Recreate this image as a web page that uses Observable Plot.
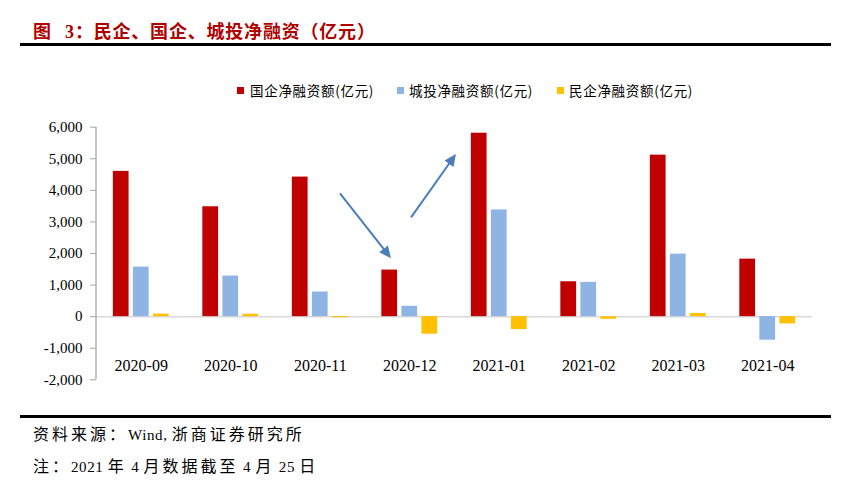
<!DOCTYPE html>
<html>
<head>
<meta charset="utf-8">
<script src="https://cdn.jsdelivr.net/npm/d3@7"></script>
<script src="https://cdn.jsdelivr.net/npm/@observablehq/plot@0.6"></script>
<style>
  html, body { margin: 0; padding: 0; background: #fff; }
  #page { position: relative; width: 860px; height: 483px; overflow: hidden; background: #fff;
          font-family: "Liberation Serif", "Noto Sans CJK SC", serif; color: #000; }
  #title { position: absolute; left: 33px; top: 17px; font-size: 18px; font-weight: bold; color: #B00000;
           font-family: "Liberation Serif", "Noto Sans CJK SC", serif; white-space: pre; letter-spacing: 0.8px; word-spacing: 8px; }
  .rule { position: absolute; left: 20px; width: 811px; background: #000; }
  #legend { position: absolute; top: 81px; left: 0; height: 20px; width: 860px; }
  .item { position: absolute; top: 0; font-size: 13.5px; white-space: nowrap; line-height: 18px;
          font-family: "Noto Sans CJK SC", sans-serif; letter-spacing: 0.7px; }
  .sw { position: absolute; width: 7px; height: 7px; top: 6px; }
  #chart { position: absolute; left: 0; top: 100px; }
  .foot { position: absolute; left: 33px; font-size: 15px; white-space: pre; line-height: 20px;
          font-family: "Liberation Serif", "Noto Sans CJK SC", serif; }
  .foot .cjk { font-size: 16px; letter-spacing: 3px; font-family: "Noto Sans CJK SC", sans-serif; }
  .foot .lat { letter-spacing: 0.6px; }
  #chart svg text { font-family: "Liberation Serif", serif; }
</style>
</head>
<body>
<div id="page">
  <div id="title"></div>
  <div class="rule" style="top:43px;height:3px;"></div>
  <div id="legend"></div>
  <div id="chart"></div>
  <div class="rule" style="top:415px;height:2.5px;"></div>
  <div class="foot" id="src" style="top:423px;"></div>
  <div class="foot" id="note" style="top:455px;"></div>
</div>
<script>
// ---- data ----
const titleText = "图 3：民企、国企、城投净融资（亿元）";
const sourceText = "资料来源：Wind, 浙商证券研究所";
const noteText = "注：2021 年 4 月数据截至 4 月 25 日";
const months = ["2020-09", "2020-10", "2020-11", "2020-12", "2021-01", "2021-02", "2021-03", "2021-04"];
const seriesNames = ["国企净融资额(亿元)", "城投净融资额(亿元)", "民企净融资额(亿元)"];
const soeValues = [4600, 3480, 4420, 1475, 5810, 1105, 5115, 1822];
const lgfvValues = [1570, 1285, 780, 328, 3380, 1086, 1980, -746];
const privateValues = [80, 75, -35, -556, -410, -85, 100, -230];
const seriesColors = ["#C00000", "#8EB4E3", "#FFC000"];
const yTicks = [-2000, -1000, 0, 1000, 2000, 3000, 4000, 5000, 6000];
// arrows: [month, fraction within month band, value]
const arrows = [
  {from: ["2020-11", 0.726, 3890], to: ["2020-12", 0.296, 1832]},
  {from: ["2020-12", 0.52, 3130], to: ["2021-01", 0.022, 5135]}
];

// ---- text ----
document.getElementById("title").textContent = titleText;
function fillFoot(id, text) {
  const el = document.getElementById(id);
  const parts = text.match(/[\u3000-\u9fff\uff00-\uffef]+|[^\u3000-\u9fff\uff00-\uffef]+/g);
  parts.forEach(p => {
    const s = document.createElement("span");
    s.className = /[\u3000-\u9fff\uff00-\uffef]/.test(p) ? "cjk" : "lat";
    s.textContent = p;
    el.appendChild(s);
  });
}
fillFoot("src", sourceText);
fillFoot("note", noteText);

const legendPos = [[237, 250], [397, 409], [557, 569]];
const legend = document.getElementById("legend");
seriesNames.forEach((s, i) => {
  const sw = document.createElement("div");
  sw.className = "sw"; sw.style.left = legendPos[i][0] + "px"; sw.style.background = seriesColors[i];
  legend.appendChild(sw);
  const t = document.createElement("div");
  t.className = "item"; t.style.left = legendPos[i][1] + "px"; t.textContent = s;
  legend.appendChild(t);
});

// ---- table ----
const valueSets = [soeValues, lgfvValues, privateValues];
const rows = [];
months.forEach((m, i) => seriesNames.forEach((s, j) => rows.push({month: m, series: s, value: valueSets[j][i]})));

const fmtAbs = d3.format(",");
const fmt = d => (d < 0 ? "-" : "") + fmtAbs(Math.abs(d));

const plot = Plot.plot({
  width: 860,
  height: 300,
  marginLeft: 96,
  marginRight: 48,
  marginTop: 26.7,
  marginBottom: 20.7,
  style: {fontFamily: "'Liberation Serif', serif", color: "#000", background: "transparent", overflow: "visible"},
  fx: {domain: months, padding: 0, round: false, axis: null, label: null},
  x: {domain: seriesNames, paddingInner: 0.215, paddingOuter: 0.84, round: false, axis: null},
  y: {domain: [-2000, 6000], axis: null},
  color: {domain: seriesNames, range: seriesColors},
  marks: [
    Plot.ruleY([0], {stroke: "#d9d9d9", strokeWidth: 1.5}),
    Plot.barY(rows, {fx: "month", x: "series", y: "value", fill: "series", inset: 0}),
    Plot.axisY({ticks: yTicks, tickSize: 6, tickPadding: 8, tickFormat: fmt, fontSize: 15,
                stroke: "#a6a6a6", fill: "#000", label: null}),
    Plot.axisFx({anchor: "bottom", tickSize: 0, tickPadding: 0, dy: -20, fontSize: 16, fill: "#000", label: null})
  ]
});
document.getElementById("chart").appendChild(plot);

// ---- y axis line and arrows via the library's scales ----
const fxS = plot.scale("fx");
const yS = plot.scale("y");
const svg = d3.select(plot.tagName.toLowerCase() === "svg" ? plot : plot.querySelector("svg"));
const x0 = fxS.range[0];
svg.append("line")
  .attr("x1", x0).attr("x2", x0)
  .attr("y1", yS.apply(6000)).attr("y2", yS.apply(-2000))
  .attr("stroke", "#a6a6a6").attr("stroke-width", 1.3);

const px = ([m, f, v]) => [fxS.apply(m) + f * fxS.bandwidth, yS.apply(v)];
const arrowColor = "#4A7EBB";
arrows.forEach(a => {
  const [xa, ya] = px(a.from), [xb, yb] = px(a.to);
  const dx = xb - xa, dy = yb - ya, len = Math.hypot(dx, dy);
  const ux = dx / len, uy = dy / len;
  const headLen = 12, headW = 5.5;
  const bx = xb - ux * headLen, by = yb - uy * headLen;
  svg.append("line").attr("x1", xa).attr("y1", ya).attr("x2", bx + ux).attr("y2", by + uy)
    .attr("stroke", arrowColor).attr("stroke-width", 2);
  svg.append("polygon")
    .attr("points", [[xb, yb], [bx - uy * headW, by + ux * headW], [bx + uy * headW, by - ux * headW]].map(p => p.join(",")).join(" "))
    .attr("fill", arrowColor);
});
</script>
</body>
</html>
